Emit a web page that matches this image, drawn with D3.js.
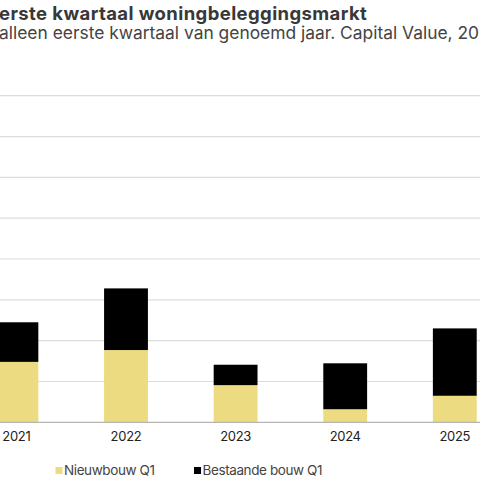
<!DOCTYPE html>
<meta charset="utf-8">
<style>
body { margin: 0; background: #fff; }
text { font-family: Inter, "Noto Sans", sans-serif; }
.title { font-size: 18.5px; font-weight: 700; fill: #383838; letter-spacing: 0.4px; }
.subtitle { font-size: 17.4px; fill: #444; letter-spacing: 0px; }
.tick text { font-size: 13px; fill: #222; letter-spacing: -0.3px; }
.legend text { font-size: 13.5px; fill: #444; letter-spacing: -0.4px; }
</style>
<svg width="480" height="480"></svg>
<script src="https://cdn.jsdelivr.net/npm/d3@7"></script>
<script>
// jaren zichtbaar in de uitsnede
const years = ["2021", "2022", "2023", "2024", "2025"]
const nieuwbouw = [1480, 1770, 910, 320, 650]
const bestaand = [970, 1510, 500, 1125, 1650]
const yTicks = [0, 1000, 2000, 3000, 4000, 5000, 6000, 7000, 8000]
const seriesNames = ["Nieuwbouw Q1", "Bestaande bouw Q1"]
const colors = ["#ecdb80", "#000000"]

const svg = d3.select("svg")

const data = years.map((y, i) => ({ year: y, nieuw: nieuwbouw[i], bestaand: bestaand[i] }))
const stack = d3.stack().keys(["nieuw", "bestaand"])(data)

// chart is wider than the window: left and right part fall off screen
const x = d3.scaleBand()
    .domain(years)
    .range([-38.4, 509.6])
    .paddingInner(0.6)
    .paddingOuter(0.3)

const y = d3.scaleLinear()
    .domain([0, 8000])
    .range([422.3, 95.7])

// title and subtitle (cut off at the left edge)
svg.append("text")
    .attr("class", "title")
    .attr("x", -1)
    .attr("y", 19.5)
    .text("erste kwartaal woningbeleggingsmarkt")

svg.append("text")
    .attr("class", "subtitle")
    .attr("x", -1)
    .attr("y", 38.5)
    .text("alleen eerste kwartaal van genoemd jaar. Capital Value, 2025")

// gridlines
svg.append("g")
  .selectAll("line")
  .data(yTicks.slice(1))
  .join("line")
    .attr("x1", 0)
    .attr("x2", 480)
    .attr("y1", d => y(d))
    .attr("y2", d => y(d))
    .attr("stroke", "#dcdcdc")
    .attr("stroke-width", 1.2)

// bars
svg.append("g")
  .selectAll("g")
  .data(stack)
  .join("g")
    .attr("fill", (d, i) => colors[i])
  .selectAll("rect")
  .data(d => d)
  .join("rect")
    .attr("x", d => x(d.data.year))
    .attr("y", d => y(d[1]))
    .attr("width", x.bandwidth())
    .attr("height", d => y(d[0]) - y(d[1]))

// x axis
const xAxis = svg.append("g")
    .attr("transform", `translate(0,${y(0)})`)
    .call(d3.axisBottom(x).tickSize(0).tickPadding(9))

xAxis.select(".domain").remove()
xAxis.append("line")
    .attr("x1", 0)
    .attr("x2", 480)
    .attr("stroke", "#b5b5b5")
    .attr("stroke-width", 1.2)

// legend
const legend = svg.append("g").attr("class", "legend")
const legendX = [55.5, 194]
seriesNames.forEach((name, i) => {
  const item = legend.append("g").attr("transform", `translate(${legendX[i]},467)`)
  item.append("rect")
      .attr("width", 7)
      .attr("height", 7)
      .attr("fill", colors[i])
  item.append("text")
      .attr("x", 8.5)
      .attr("y", 3.5)
      .attr("dy", "0.35em")
      .text(name)
})
</script>
